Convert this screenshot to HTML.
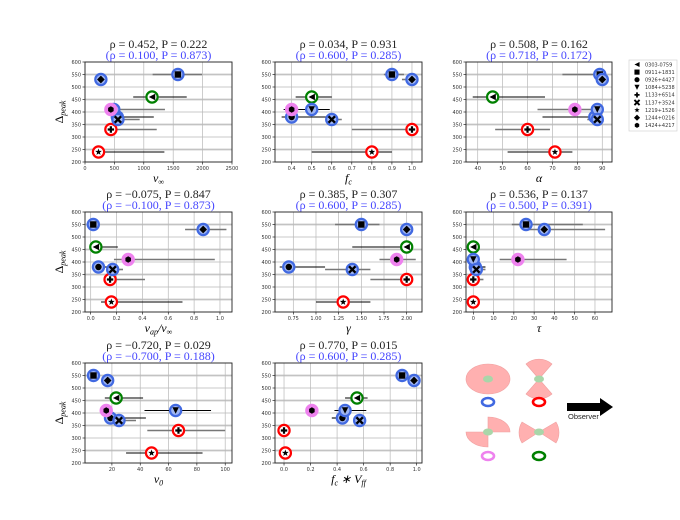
<!DOCTYPE html>
<html><head><meta charset="utf-8"><style>
body{margin:0;background:#fff}
svg{display:block}
.tk{font-family:"DejaVu Sans","Liberation Sans",sans-serif;font-size:5px;fill:#333}
.tt{font-family:"Liberation Serif",serif;font-size:12px}
.xl{font-family:"Liberation Serif",serif;font-size:12px;font-style:italic}
</style></head><body>
<svg id="fig" width="680" height="520" viewBox="0 0 680 520" xmlns="http://www.w3.org/2000/svg"></svg>
<script>
const objNames=["0303-0759","0911+1831","0926+4427","1084+5238","1133+6514","1137+3524","1219+1526","1244+0216","1424+4217"];
const deltaPeak=[460,550,380,410,330,370,240,530,410];
const yTicks=[200,250,300,350,400,450,500,550,600];
const vinf=[1140,1580,550,490,440,560,230,270,440];
const vinfLo=[820,1150,450,null,370,480,230,null,440];
const vinfHi=[1730,1990,1170,null,1220,930,1350,null,1360];
const fc=[0.5,0.9,0.4,0.5,1.0,0.6,0.8,1.0,0.4];
const fcLo=[0.42,0.86,0.35,0.36,0.7,0.57,0.5,0.95,null];
const fcHi=[0.6,0.96,0.6,0.59,1.0,0.65,0.9,1.0,null];
const alpha=[46,89,87,88,60,88,71,90,79];
const alphaLo=[38,74,66,null,47,84,52,null,64];
const alphaHi=[67,89,88,null,69,88,78,null,88];
const vap=[0.04,0.02,0.06,null,0.15,0.17,0.16,0.87,0.29];
const vapLo=[0.04,null,0.06,null,0.13,0.14,0.08,0.73,0.18];
const vapHi=[0.21,null,0.13,null,0.42,0.25,0.71,1.05,0.96];
const gamma=[2.0,1.5,0.7,null,2.0,1.4,1.3,2.0,1.89];
const gammaLo=[1.4,1.21,0.6,null,1.6,1.1,1.0,1.93,1.7];
const gammaHi=[2.0,1.7,1.1,null,2.0,1.6,1.6,2.0,2.1];
const tau=[0,26,1,0,0,1.5,0,35,22];
const tauLo=[null,19,1,null,0,1.5,null,25,13];
const tauHi=[null,54,6,null,5,6,null,65,46];
const v0=[23,7,19,65,67,25,48,17,16];
const v0Lo=[15,null,17,43,45,23,30,null,null];
const v0Hi=[42,null,44,90,100,37,84,null,null];
const fcv=[0.55,0.89,0.44,0.46,0.0,0.57,0.01,0.98,0.21];
const fcvLo=[0.46,0.86,0.36,0.38,null,null,null,0.95,null];
const fcvHi=[0.63,0.92,0.46,0.62,null,null,null,1.0,null];
const ticks1=[0,500,1000,1500,2000,2500];
const ticks2=[0.4,0.5,0.6,0.7,0.8,0.9,1.0];
const ticks3=[40,50,60,70,80,90];
const ticks4=[0,0.2,0.4,0.6,0.8,1.0];
const ticks5=[0.75,1.0,1.25,1.5,1.75,2.0];
const ticks6=[0,10,20,30,40,50,60];
const ticks7=[20,40,60,80,100];
const ticks8=[0,0.2,0.4,0.6,0.8,1.0];
const rhoTitles=["ρ = 0.452, P = 0.222","ρ = 0.034, P = 0.931","ρ = 0.508, P = 0.162","ρ = −0.075, P = 0.847","ρ = 0.385, P = 0.307","ρ = 0.536, P = 0.137","ρ = −0.720, P = 0.029","ρ = 0.770, P = 0.015"];
const subTitles=["(ρ = 0.100, P = 0.873)","(ρ = 0.600, P = 0.285)","(ρ = 0.718, P = 0.172)","(ρ = −0.100, P = 0.873)","(ρ = 0.600, P = 0.285)","(ρ = 0.500, P = 0.391)","(ρ = −0.700, P = 0.188)","(ρ = 0.600, P = 0.285)"];

const ringStroke=["green","#4169e1","#4169e1","#4169e1","red","#4169e1","red","#4169e1","violet"];
const ringFill=["#fff","#9fb5f3","#9fb5f3","#9fb5f3","#fff","#9fb5f3","#fff","#9fb5f3","violet"];
const errCol=["#000","#777","#000","#000","#777","#777","#000","#777","#777"];
const NS="http://www.w3.org/2000/svg";
const fig=document.getElementById('fig');
function mk(tag,attrs,parent){const e=document.createElementNS(NS,tag);for(const k in attrs)e.setAttribute(k,attrs[k]);(parent||fig).appendChild(e);return e;}
function fmt(v,t){let d=0;t.forEach(x=>{const s=String(x);if(s.includes('.'))d=Math.max(d,s.split('.')[1].length);});return v.toFixed(d);}
const cols=[[85,232],[275,422],[466,612]];
const rows=[[62,162],[212,312],[363,463]];
const panels=[
 {c:0,r:0,x:vinf,lo:vinfLo,hi:vinfHi,lim:[0,2500],t:ticks1,lab:'v∞',name:'vinf'},
 {c:1,r:0,x:fc,lo:fcLo,hi:fcHi,lim:[0.317,1.05],t:ticks2,lab:'fc',name:'fc'},
 {c:2,r:0,x:alpha,lo:alphaLo,hi:alphaHi,lim:[35.3,93.9],t:ticks3,lab:'α',name:'alpha'},
 {c:0,r:1,x:vap,lo:vapLo,hi:vapHi,lim:[-0.044,1.093],t:ticks4,lab:'vap',name:'vap-ratio'},
 {c:1,r:1,x:gamma,lo:gammaLo,hi:gammaHi,lim:[0.548,2.169],t:ticks5,lab:'γ',name:'gamma'},
 {c:2,r:1,x:tau,lo:tauLo,hi:tauHi,lim:[-3.6,68.4],t:ticks6,lab:'τ',name:'tau'},
 {c:0,r:2,x:v0,lo:v0Lo,hi:v0Hi,lim:[1,104.8],t:ticks7,lab:'v0',name:'v0'},
 {c:1,r:2,x:fcv,lo:fcvLo,hi:fcvHi,lim:[-0.068,1.04],t:ticks8,lab:'fcv',name:'fc-vff'}];

function marker(i,cx,cy,g){
 const s=3.2;let e;
 if(i===0)e=mk('polygon',{points:`${cx-s},${cy} ${cx+s},${cy-s} ${cx+s},${cy+s}`},g);
 else if(i===1)e=mk('rect',{x:cx-s,y:cy-s,width:2*s,height:2*s},g);
 else if(i===2)e=mk('circle',{cx:cx,cy:cy,r:s},g);
 else if(i===3)e=mk('polygon',{points:`${cx-s},${cy-s} ${cx+s},${cy-s} ${cx},${cy+s}`},g);
 else if(i===4)e=mk('path',{d:`M${cx-s},${cy-1.1}H${cx+s}V${cy+1.1}H${cx-s}Z M${cx-1.1},${cy-s}H${cx+1.1}V${cy+s}H${cx-1.1}Z`},g);
 else if(i===5)e=mk('path',{d:`M${cx-s},${cy-s}L${cx+s},${cy+s}M${cx+s},${cy-s}L${cx-s},${cy+s}`,stroke:'#000','stroke-width':2.4,fill:'none'},g);
 else if(i===6){let p=[];for(let k=0;k<10;k++){const a=-Math.PI/2+k*Math.PI/5,r=k%2?s*0.45:s*1.1;p.push((cx+r*Math.cos(a)).toFixed(2)+','+(cy+r*Math.sin(a)).toFixed(2));}e=mk('polygon',{points:p.join(' ')},g);}
 else if(i===7)e=mk('polygon',{points:`${cx},${cy-s*1.2} ${cx+s*1.2},${cy} ${cx},${cy+s*1.2} ${cx-s*1.2},${cy}`},g);
 else {let p=[];for(let k=0;k<6;k++){const a=k*Math.PI/3+Math.PI/6;p.push((cx+s*Math.cos(a)).toFixed(2)+','+(cy+s*Math.sin(a)).toFixed(2));}e=mk('polygon',{points:p.join(' ')},g);}
 e.setAttribute('fill', i===5?'none':'#000');
 return e;
}
function xlabel(p,x,y,g){
 const t=mk('text',{x:x,y:y,'text-anchor':'middle',class:'xl'},g);
 const add=(txt,sub)=>{const ts=mk('tspan',sub?{'font-size':'8px',dy:sub}:{},t);ts.textContent=txt;return ts;};
 if(p.lab==='v∞'){add('v');add('∞',2.5);}
 else if(p.lab==='fc'){add('f');add('c',2.5);}
 else if(p.lab==='vap'){add('v');add('ap',2.5);const a=mk('tspan',{dy:-2.5},t);a.textContent='/v';add('∞',2.5);}
 else if(p.lab==='v0'){add('v');add('0',2.5);}
 else if(p.lab==='fcv'){add('f');add('c',2.5);const a=mk('tspan',{dy:-2.5},t);a.textContent=' ∗ V';add('ff',2.5);}
 else add(p.lab);
 return t;
}
panels.forEach((p,pi)=>{
 const [L,R]=cols[p.c],[T,B]=rows[p.r];
 const g=mk('g',{});
 
 
 const sx=v=>L+(v-p.lim[0])/(p.lim[1]-p.lim[0])*(R-L);
 const sy=v=>B-(v-200)/400*(B-T);
 [250,350,450,550].forEach(v=>mk('line',{x1:L,x2:R,y1:sy(v),y2:sy(v),stroke:'#e2e2e2','stroke-width':2.5},g));
 yTicks.forEach(v=>{mk('line',{x1:L,x2:R,y1:sy(v),y2:sy(v),stroke:'#b8b8b8','stroke-width':0.7},g);
  mk('line',{x1:L-2.5,x2:L,y1:sy(v),y2:sy(v),stroke:'#000','stroke-width':0.6},g);
  const t=mk('text',{x:L-4,y:sy(v)+1.8,'text-anchor':'end',class:'tk'},g);t.textContent=v;});
 p.t.forEach(v=>{const x=sx(v);mk('line',{x1:x,x2:x,y1:T,y2:B,stroke:'#b8b8b8','stroke-width':0.7},g);
  mk('line',{x1:x,x2:x,y1:B,y2:B+2.5,stroke:'#000','stroke-width':0.6},g);
  const t=mk('text',{x:x,y:B+8,'text-anchor':'middle',class:'tk'},g);t.textContent=fmt(v,p.t);});
 const bars=mk('g',{},g);
 
 
 deltaPeak.forEach((d,i)=>{if(p.lo[i]==null||p.hi[i]==null)return;
  const l=mk('line',{x1:sx(p.lo[i]),x2:sx(p.hi[i]),y1:sy(d),y2:sy(d),stroke:errCol[i],'stroke-width':errCol[i]==='#000'?1.1:1.6},bars);
  
  });
 deltaPeak.forEach((d,i)=>{if(p.x[i]==null)return;
  const pg=mk('g',{},g);
  
  
  const cx=sx(p.x[i]),cy=sy(d);
  mk('circle',{cx:cx,cy:cy,r:5.6,fill:ringFill[i],stroke:ringStroke[i],'stroke-width':2.2},pg);
  marker(i,cx,cy,pg);});
 mk('rect',{x:L,y:T,width:R-L,height:B-T,fill:'none',stroke:'#222','stroke-width':0.9},g);
 const cx=(L+R)/2;
 const t1=mk('text',{x:cx,y:T-14,'text-anchor':'middle',class:'tt',fill:'#222'},g);t1.textContent=rhoTitles[pi];
 
 const t2=mk('text',{x:cx,y:T-3,'text-anchor':'middle',class:'tt',fill:'#4646ff'},g);t2.textContent=subTitles[pi];
 
 const xl=xlabel(p,cx,B+20,g);
 
 if(p.c===0){const yl=mk('text',{x:0,y:0,transform:`translate(${L-22},${(T+B)/2}) rotate(-90)`,'text-anchor':'middle',class:'xl'},g);
  const a=mk('tspan',{'font-style':'normal'},yl);a.textContent='Δ';const b=mk('tspan',{'font-size':'8px',dy:2.5},yl);b.textContent='peak';
  }
});
const lg=mk('g',{});


mk('rect',{x:629,y:60,width:48,height:71,fill:'#fff',stroke:'#ccc','stroke-width':0.6},lg);
objNames.forEach((n,i)=>{const y=64.5+i*7.6;
 const e=mk('g',{},lg);
 const m=marker(i,637,y,e);m.setAttribute('transform',`translate(637,${y}) scale(0.8) translate(-637,${-y})`);
 const t=mk('text',{x:645,y:y+1.8,class:'tk','font-size':'4.6px'},e);t.textContent=n;});
</script>
<svg style="position:absolute;left:0;top:0" width="680" height="520">
 <g fill="#ffb0b0" stroke="#f0a0a0" stroke-width="0.6">
  <ellipse cx="488" cy="379" rx="22" ry="15"/>
  <path d="M539,379 L526,364 A20,20 0 0 1 552,364 Z"/>
  <path d="M539,379 L526,394 A20,20 0 0 0 552,394 Z"/>
  <path d="M488,432 L488,417 A22,15 0 0 1 510,432 Z"/>
  <path d="M488,432 L466,432 A22,15 0 0 0 488,447 Z"/>
  <path d="M539,432 L522,422 A20,20 0 0 0 522,443 Z"/>
  <path d="M539,432 L556,422 A20,20 0 0 1 556,443 Z"/>
 </g>
 <g fill="#a9d6a9">
  <ellipse cx="488" cy="379" rx="5" ry="3.5"/><ellipse cx="539" cy="379" rx="5" ry="3.5"/>
  <ellipse cx="488" cy="432" rx="5" ry="3.5"/><ellipse cx="539" cy="432" rx="5" ry="3.5"/>
 </g>
 <g fill="none" stroke-width="2.6">
  <ellipse cx="488" cy="402" rx="6" ry="4" stroke="#4169e1"/>
  <ellipse cx="539" cy="402" rx="6" ry="4" stroke="red"/>
  <ellipse cx="488" cy="456" rx="6" ry="4" stroke="violet"/>
  <ellipse cx="539" cy="456" rx="6" ry="4" stroke="green"/>
 </g>
 <g>
  <rect x="567" y="403" width="34" height="8" fill="#000"/>
  <polygon points="600,398 613,407 600,416" fill="#000"/>
  <text x="568" y="419" font-family="Liberation Sans, sans-serif" font-size="7.5" fill="#222">Observer</text>
 </g>
</svg>
</body></html>
